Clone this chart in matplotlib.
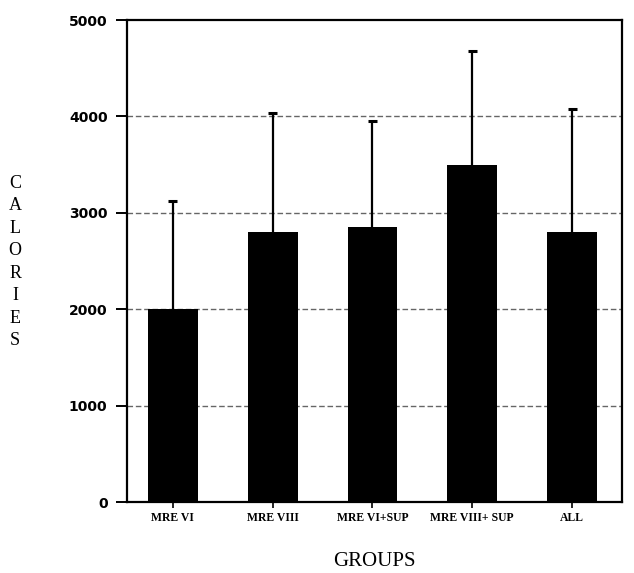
import matplotlib
matplotlib.use('agg')
import matplotlib.pyplot as plt

# mean daily intake per ration group, with the upper SD whisker
groups = ['MRE VI', 'MRE VIII', 'MRE VI+SUP', 'MRE VIII+ SUP', 'ALL']
calories = [2000, 2800, 2850, 3500, 2800]
sd = [1120, 1240, 1100, 1180, 1280]
yticks = [0, 1000, 2000, 3000, 4000, 5000]

fig = plt.figure(figsize=(6.34, 5.73), dpi=100)
ax = fig.add_axes([0.2003, 0.1239, 0.7807, 0.8411])

xs = list(range(len(groups)))
tops = [c + s for c, s in zip(calories, sd)]
ax.bar(xs, calories, width=0.5, color='black', zorder=3)
# upper whiskers only
ax.vlines(xs, calories, tops, color='black', lw=1.6, zorder=2)
ax.hlines(tops, [x - 0.045 for x in xs], [x + 0.045 for x in xs],
          color='black', lw=2.2, zorder=2)

ax.set_xlim(-0.46, 4.5)
ax.set_ylim(0, 5000)
ax.set_yticks(yticks)
ax.set_yticklabels([str(v) for v in yticks], fontsize=10, fontweight='bold',
                   family='DejaVu Sans')
ax.set_xticks(xs)
ax.set_xticklabels(groups, fontsize=8.5, fontweight='bold',
                   family='Liberation Serif')

for v in yticks[1:-1]:
    ax.axhline(v, color='#666666', lw=1, ls=(0, (4, 2)), zorder=1)

for s in ax.spines.values():
    s.set_linewidth(1.6)
ax.tick_params(axis='y', length=8, width=1.4, pad=6)
ax.tick_params(axis='x', length=4, width=1.2, pad=3)

ax.set_xlabel('GROUPS', fontsize=15, family='Liberation Serif', labelpad=20)

# vertical stacked axis title
fig.text(0.024, 0.543, '\n'.join('CALORIES'), ha='center', va='center',
         fontsize=13, family='Liberation Serif', linespacing=1.42)

fig.savefig('out.png', dpi=100)
